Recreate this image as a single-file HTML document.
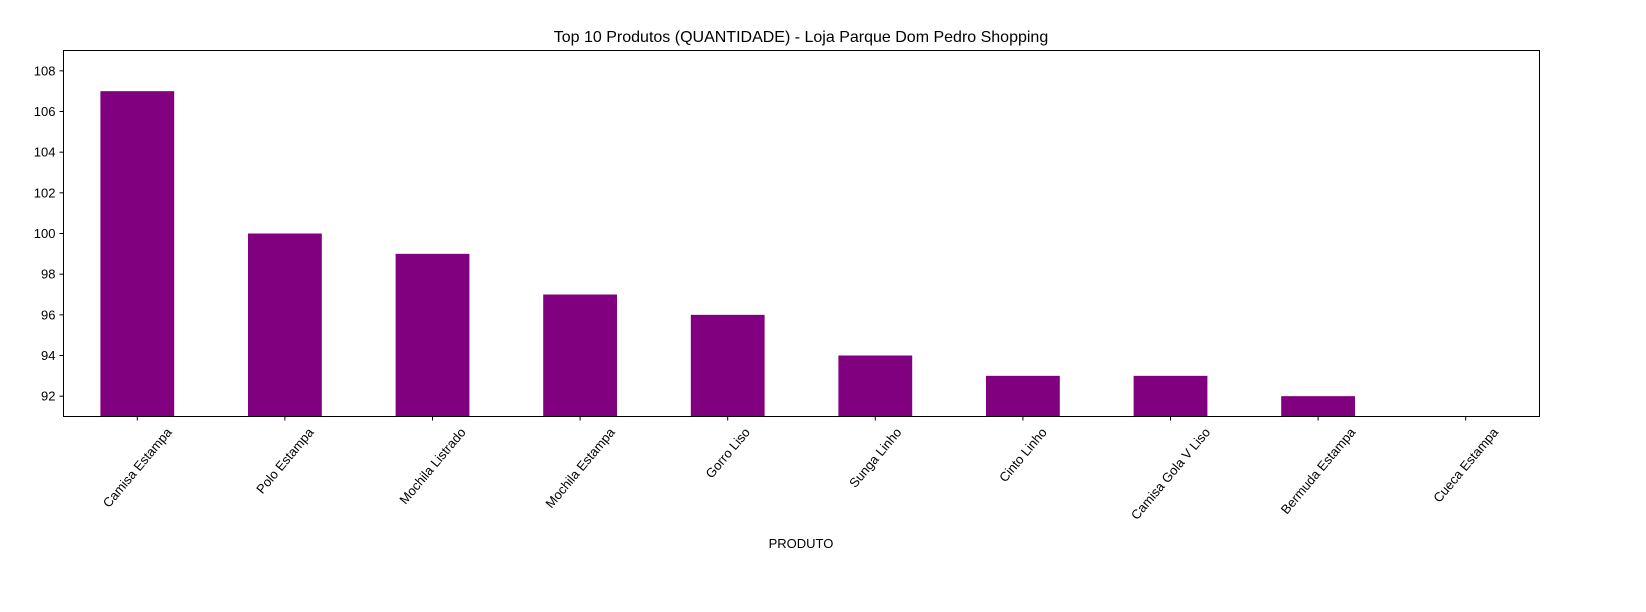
<!DOCTYPE html>
<html><head><meta charset="utf-8"><style>
body{margin:0;background:#fff;}
svg text{font-family:"Liberation Sans","DejaVu Sans",sans-serif;fill:#000;}
</style></head><body>
<svg id="chart" width="1646" height="607" viewBox="0 0 1646 607" xmlns="http://www.w3.org/2000/svg">
<rect width="1646" height="607" fill="#fff"/>
<text x="801" y="42" font-size="16" text-anchor="middle">Top 10 Produtos (QUANTIDADE) - Loja Parque Dom Pedro Shopping</text>
<g id="bars"></g>
<g id="yticks"></g>
<g id="xticks"></g>
<rect x="63.5" y="50.5" width="1476" height="366" fill="none" stroke="#000" stroke-width="1"/>
<text x="801" y="548" font-size="13" text-anchor="middle">PRODUTO</text>
</svg>
<script>
const categories = ["Camisa Estampa","Polo Estampa","Mochila Listrado","Mochila Estampa","Gorro Liso","Sunga Linho","Cinto Linho","Camisa Gola V Liso","Bermuda Estampa","Cueca Estampa"];
const values = [107,100,99,97,96,94,93,93,92,91];
const yTicks = [92,94,96,98,100,102,104,106,108];
const yMin = 91, yMax = 109;
const L=63.5, R=1539.5, T=50.5, B=416.5;
const NS="http://www.w3.org/2000/svg";
function xS(i){return L+(i+0.5)*(R-L)/categories.length;}
function yS(v){return B-(v-yMin)/(yMax-yMin)*(B-T);}
function mk(tag,attrs,parent){const e=document.createElementNS(NS,tag);for(const k in attrs)e.setAttribute(k,attrs[k]);parent.appendChild(e);return e;}
const bw=(R-L)/categories.length*0.5;
const gb=document.getElementById('bars'), gy=document.getElementById('yticks'), gx=document.getElementById('xticks');
values.forEach((v,i)=>{
  const top=Math.max(yS(v),T), h=B-top;
  if(h<=0)return;
  const r=mk('rect',{x:xS(i)-bw/2,y:top,width:bw,height:h,fill:'#800080'},gb);
  
  
});
yTicks.forEach(t=>{
  const y=yS(t);
  const l=mk('line',{x1:L-4,x2:L,y1:y,y2:y,stroke:'#000'},gy);
  
  
  const tx=mk('text',{x:L-8,y:y+4.5,'font-size':13,'text-anchor':'end'},gy);
  tx.textContent=t;
  
  
});
const ang=50*Math.PI/180;
categories.forEach((c,i)=>{
  const x=xS(i);
  const l=mk('line',{x1:x,x2:x,y1:B,y2:B+4,stroke:'#000'},gx);
  
  
  const tx=mk('text',{x:x,y:0,'font-size':13,'text-anchor':'middle'},gx);
  tx.textContent=c;
  
  
  const len=tx.getComputedTextLength();
  const cy=B+9+(len*Math.sin(ang)+13*Math.cos(ang))/2;
  tx.setAttribute('y',cy+4.5);
  tx.setAttribute('transform',`rotate(-50 ${x} ${cy})`);
});
</script>
</body></html>
